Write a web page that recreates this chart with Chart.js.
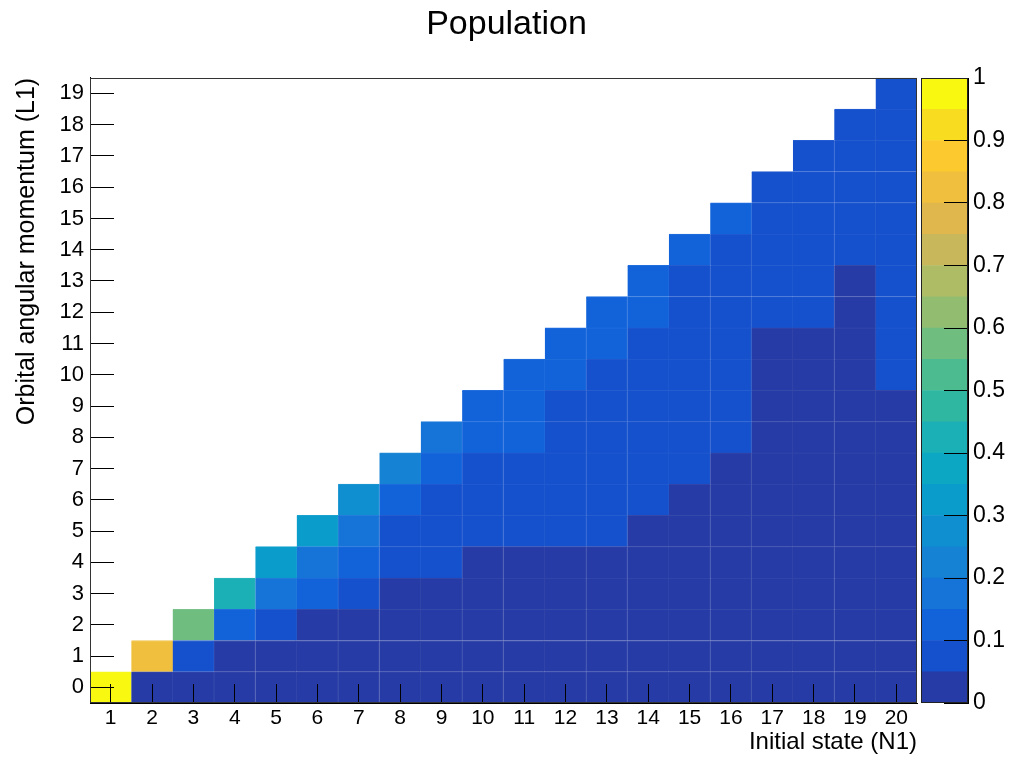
<!DOCTYPE html>
<html>
<head>
<meta charset="utf-8">
<title>Population</title>
<script src="https://cdn.jsdelivr.net/npm/chart.js@4.4.1/dist/chart.umd.min.js"></script>
<style>
  html, body { margin: 0; padding: 0; background: #fff; }
  #wrap { position: relative; width: 1013px; height: 757px; }
  #main { position: absolute; left: 0; top: 0; }
  #zbar { position: absolute; left: 900px; top: 0; }
</style>
</head>
<body>
<div id="wrap">
  <canvas id="main" width="1013" height="757"></canvas>
  <canvas id="zbar" width="113" height="757"></canvas>
</div>
<script>
const FONT = "'Liberation Sans', Arial, Helvetica, sans-serif";

// Bins: initial state N1 along x, orbital angular momentum L1 along y
const n1States = [1, 2, 3, 4, 5, 6, 7, 8, 9, 10, 11, 12, 13, 14, 15, 16, 17, 18, 19, 20];
const l1States = [0, 1, 2, 3, 4, 5, 6, 7, 8, 9, 10, 11, 12, 13, 14, 15, 16, 17, 18, 19];

// Population for each initial state N1, listed from L1 = 0 upward (L1 < N1)
const popN1_01 = [1.00];
const popN1_02 = [0.02, 0.83];
const popN1_03 = [0.02, 0.08, 0.57];
const popN1_04 = [0.01, 0.03, 0.12, 0.42];
const popN1_05 = [0.01, 0.02, 0.08, 0.18, 0.33];
const popN1_06 = [0.01, 0.02, 0.04, 0.13, 0.19, 0.31];
const popN1_07 = [0.01, 0.02, 0.03, 0.08, 0.13, 0.18, 0.28];
const popN1_08 = [0.01, 0.02, 0.03, 0.04, 0.08, 0.09, 0.12, 0.23];
const popN1_09 = [0.01, 0.01, 0.02, 0.04, 0.06, 0.08, 0.09, 0.12, 0.17];
const popN1_10 = [0.01, 0.01, 0.02, 0.03, 0.04, 0.07, 0.08, 0.09, 0.11, 0.13];
const popN1_11 = [0.01, 0.01, 0.02, 0.03, 0.04, 0.06, 0.07, 0.09, 0.11, 0.12, 0.13];
const popN1_12 = [0.01, 0.01, 0.02, 0.03, 0.04, 0.06, 0.07, 0.08, 0.09, 0.09, 0.11, 0.13];
const popN1_13 = [0.01, 0.01, 0.02, 0.02, 0.04, 0.06, 0.07, 0.08, 0.08, 0.09, 0.09, 0.11, 0.12];
const popN1_14 = [0.01, 0.01, 0.02, 0.02, 0.03, 0.04, 0.06, 0.07, 0.07, 0.08, 0.09, 0.09, 0.11, 0.12];
const popN1_15 = [0.01, 0.01, 0.01, 0.02, 0.03, 0.03, 0.04, 0.06, 0.07, 0.07, 0.08, 0.08, 0.09, 0.09, 0.11];
const popN1_16 = [0.01, 0.01, 0.01, 0.02, 0.02, 0.03, 0.03, 0.04, 0.06, 0.06, 0.07, 0.07, 0.08, 0.08, 0.09, 0.11];
const popN1_17 = [0.01, 0.01, 0.01, 0.01, 0.02, 0.02, 0.02, 0.03, 0.03, 0.04, 0.04, 0.04, 0.06, 0.07, 0.07, 0.08, 0.08];
const popN1_18 = [0.01, 0.01, 0.01, 0.01, 0.02, 0.02, 0.02, 0.03, 0.03, 0.03, 0.04, 0.04, 0.06, 0.06, 0.07, 0.07, 0.08, 0.08];
const popN1_19 = [0.01, 0.01, 0.01, 0.01, 0.01, 0.02, 0.02, 0.02, 0.03, 0.03, 0.03, 0.04, 0.04, 0.04, 0.06, 0.06, 0.07, 0.07, 0.08];
const popN1_20 = [0.01, 0.01, 0.01, 0.01, 0.01, 0.02, 0.02, 0.02, 0.03, 0.04, 0.06, 0.06, 0.07, 0.07, 0.07, 0.08, 0.08, 0.08, 0.09, 0.09];

const populationByN1 = [
  popN1_01, popN1_02, popN1_03, popN1_04, popN1_05, popN1_06, popN1_07, popN1_08, popN1_09, popN1_10,
  popN1_11, popN1_12, popN1_13, popN1_14, popN1_15, popN1_16, popN1_17, popN1_18, popN1_19, popN1_20
];

// Colour scale: 20 contour levels from 0 to 1
const zLevels = [0, 0.05, 0.10, 0.15, 0.20, 0.25, 0.30, 0.35, 0.40, 0.45, 0.50,
                 0.55, 0.60, 0.65, 0.70, 0.75, 0.80, 0.85, 0.90, 0.95, 1.00];
const zColors = [
  '#263ba5', '#1551cc', '#1263da', '#1674d8', '#1582d4',
  '#0f8fd0', '#0a9ccb', '#0ba7c3', '#1bb0b5', '#30b7a2',
  '#4dbb90', '#70bd80', '#92bd71', '#afbc66', '#c9b75b',
  '#dfb74d', '#f0bf3e', '#fcca2f', '#f7dc1f', '#f8f810'
];
const zTicks = [0, 0.1, 0.2, 0.3, 0.4, 0.5, 0.6, 0.7, 0.8, 0.9, 1];

function colorFor(v) {
  let i = 0;
  while (i < zColors.length - 1 && v >= zLevels[i + 1]) i++;
  return zColors[i];
}

// Slightly lighter shade of a cell colour, used for the faint cell edges
function edgeOf(hex) {
  const n = parseInt(hex.slice(1), 16);
  const mix = (c) => Math.round(c + (255 - c) * 0.07);
  return 'rgb(' + mix(n >> 16) + ',' + mix((n >> 8) & 255) + ',' + mix(n & 255) + ')';
}

// Thin outline around the plotting area
const framePlugin = {
  id: 'frame',
  afterDraw(chart, args, opts) {
    const { ctx, chartArea: a } = chart;
    ctx.save();
    ctx.strokeStyle = opts.color || '#000';
    ctx.lineWidth = 1;
    ctx.strokeRect(Math.round(a.left) + 0.5, Math.round(a.top) + 0.5,
                   Math.round(a.right - a.left) - 1, Math.round(a.bottom - a.top) - 1);
    ctx.restore();
  }
};

// One floating-bar dataset per L1 row; each bar spans its bin [L-0.5, L+0.5]
const cellDatasets = l1States.map((L) => {
  const fills = populationByN1.map((col) => (L < col.length ? colorFor(col[L]) : 'rgba(0,0,0,0)'));
  return {
    label: 'L1 = ' + L,
    data: populationByN1.map((col) => (L < col.length ? [L - 0.5, L + 0.5] : null)),
    backgroundColor: fills,
    borderColor: fills.map((c) => (c.startsWith('#') ? edgeOf(c) : c)),
    borderWidth: { top: 1, right: 1, bottom: 0, left: 0 },
    borderSkipped: false,
    grouped: false,
    barPercentage: 1,
    categoryPercentage: 1
  };
});

// Inward tick marks drawn above the cells
const tickGrid = (len) => ({
  display: true, offset: false, drawOnChartArea: false, drawTicks: true,
  tickLength: len, color: '#000', lineWidth: 1, z: 1
});

new Chart(document.getElementById('main'), {
  type: 'bar',
  data: { labels: n1States.map(String), datasets: cellDatasets },
  options: {
    responsive: false,
    animation: false,
    devicePixelRatio: 1,
    layout: { padding: 0 },
    plugins: {
      legend: { display: false },
      tooltip: { enabled: false },
      title: {
        display: true,
        text: 'Population',
        color: '#000',
        font: { family: FONT, size: 34, weight: 'normal' },
        padding: { top: 4, bottom: 33 }
      },
      frame: { color: '#333' }
    },
    scales: {
      x: {
        type: 'category',
        position: 'bottom',
        offset: true,
        grid: tickGrid(-19),
        border: { display: true, color: '#000', width: 1, z: 1 },
        ticks: { color: '#000', font: { family: FONT, size: 21 }, padding: 22, autoSkip: false, maxRotation: 0, minRotation: 0 },
        title: { display: true, text: 'Initial state (N1)', align: 'end', color: '#000', font: { family: FONT, size: 24 }, padding: { top: 0, bottom: 0 } },
        afterFit: (s) => { s.height = 54; }
      },
      y: {
        type: 'linear',
        position: 'left',
        min: -0.5,
        max: 19.5,
        afterBuildTicks: (s) => { s.ticks = l1States.map((v) => ({ value: v })); },
        grid: tickGrid(-24),
        border: { display: true, color: '#000', width: 1, z: 1 },
        ticks: { color: '#000', font: { family: FONT, size: 22 }, padding: 30, autoSkip: false, callback: (v) => String(v) },
        title: { display: true, text: 'Orbital angular momentum (L1)', align: 'end', color: '#000', font: { family: FONT, size: 25 }, padding: { top: 12, bottom: 0 } },
        afterFit: (s) => { s.width = 90; }
      },
      yRight: {
        type: 'linear',
        position: 'right',
        display: true,
        grid: { display: false },
        border: { display: false },
        ticks: { display: false },
        afterFit: (s) => { s.width = 96; }
      }
    }
  },
  plugins: [framePlugin]
});

// Colour bar: one floating bar per contour level
const zDatasets = zColors.map((c, i) => ({
  label: zLevels[i] + '-' + zLevels[i + 1],
  data: [[zLevels[i], zLevels[i + 1]]],
  backgroundColor: c,
  grouped: false,
  barPercentage: 1,
  categoryPercentage: 1,
  borderWidth: 0,
  borderSkipped: false
}));

new Chart(document.getElementById('zbar'), {
  type: 'bar',
  data: { labels: ['z'], datasets: zDatasets },
  options: {
    responsive: false,
    animation: false,
    devicePixelRatio: 1,
    layout: { padding: { left: 21, top: 78, bottom: 54, right: 0 } },
    plugins: {
      legend: { display: false },
      tooltip: { enabled: false },
      frame: { color: '#222' }
    },
    scales: {
      x: { display: false },
      y: {
        type: 'linear',
        position: 'right',
        min: 0,
        max: 1,
        afterBuildTicks: (s) => { s.ticks = zTicks.map((v) => ({ value: v })); },
        grid: tickGrid(-24),
        border: { display: true, color: '#000', width: 1, z: 1 },
        ticks: { color: '#000', font: { family: FONT, size: 23 }, padding: 29, autoSkip: false, callback: (v) => String(+Number(v).toFixed(2)) },
        afterFit: (s) => { s.width = 45; }
      }
    }
  },
  plugins: [framePlugin]
});
</script>
</body>
</html>
